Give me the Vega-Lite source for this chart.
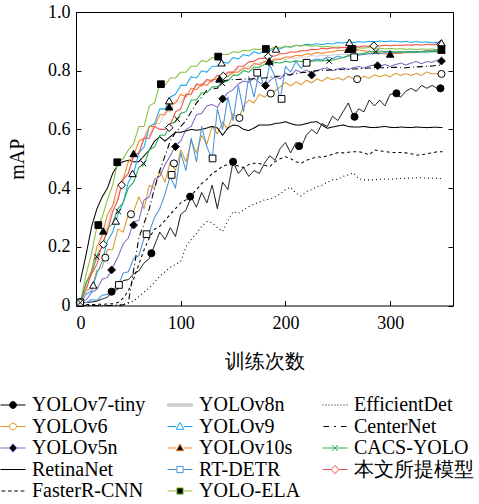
{
  "$schema": "https://vega.github.io/schema/vega-lite/v6.json",
  "width": 377,
  "height": 293.5,
  "autosize": {"type": "none"},
  "padding": {"left": 76, "top": 12, "right": 26, "bottom": 198.5},
  "background": "white",
  "config": {
    "font": "Liberation Serif",
    "view": {"stroke": "black", "strokeWidth": 1},
    "axis": {"domain": false, "grid": false, "tickColor": "black", "tickSize": -5, "tickWidth": 1,
      "labelFont": "Liberation Serif", "labelFontSize": 18, "labelColor": "black",
      "titleFont": "Liberation Serif", "titleFontSize": 20, "titleFontWeight": "normal", "titleColor": "black"}
  },
  "datasets": {
    "cur": [
      {"e":4,"a":0.01,"b":0.01,"c":0.01,"d":0.08,"f":0.003,"g":0.01,"h":0.01,"i":0.01,"j":0.01,"k":0.01,"l":0,"m":0,"n":0.01,"o":0.01},
      {"e":10,"a":0.01,"b":0.05,"c":0.02,"d":0.18,"f":0.003,"g":0.05,"h":0.04,"i":0.08,"j":0.01,"k":0.11,"l":0,"m":0,"n":0.08,"o":0.06},
      {"e":15,"a":0.012,"b":0.06,"c":0.045,"d":0.27,"f":0.003,"g":0.12,"h":0.05,"i":0.12,"j":0.02,"k":0.18,"l":0,"m":0,"n":0.11,"o":0.11},
      {"e":20,"a":0.015,"b":0.12,"c":0.055,"d":0.33,"f":0.004,"g":0.16,"h":0.11,"i":0.2,"j":0.018,"k":0.27,"l":0,"m":0,"n":0.17,"o":0.14},
      {"e":25,"a":0.022,"b":0.13,"c":0.09,"d":0.37,"f":0.004,"g":0.24,"h":0.15,"i":0.24,"j":0.035,"k":0.3,"l":0,"m":0,"n":0.2,"o":0.21},
      {"e":30,"a":0.028,"b":0.19,"c":0.095,"d":0.4,"f":0.005,"g":0.27,"h":0.22,"i":0.31,"j":0.038,"k":0.36,"l":0,"m":0,"n":0.26,"o":0.25},
      {"e":35,"a":0.05,"b":0.19,"c":0.13,"d":0.45,"f":0.006,"g":0.34,"h":0.25,"i":0.34,"j":0.055,"k":0.41,"l":0.001,"m":0,"n":0.28,"o":0.32},
      {"e":40,"a":0.055,"b":0.26,"c":0.165,"d":0.48,"f":0.01,"g":0.37,"h":0.31,"i":0.41,"j":0.065,"k":0.49,"l":0.002,"m":0,"n":0.33,"o":0.36},
      {"e":45,"a":0.085,"b":0.25,"c":0.21,"d":0.49,"f":0.025,"g":0.43,"h":0.35,"i":0.43,"j":0.11,"k":0.5,"l":0.003,"m":0.002,"n":0.35,"o":0.43},
      {"e":50,"a":0.088,"b":0.31,"c":0.23,"d":0.495,"f":0.05,"g":0.45,"h":0.42,"i":0.49,"j":0.115,"k":0.53,"l":0.008,"m":0.01,"n":0.4,"o":0.45},
      {"e":55,"a":0.108,"b":0.32,"c":0.285,"d":0.49,"f":0.09,"g":0.51,"h":0.45,"i":0.51,"j":0.16,"k":0.55,"l":0.015,"m":0.12,"n":0.42,"o":0.51},
      {"e":60,"a":0.118,"b":0.37,"c":0.29,"d":0.49,"f":0.14,"g":0.52,"h":0.52,"i":0.56,"j":0.17,"k":0.61,"l":0.03,"m":0.23,"n":0.47,"o":0.52},
      {"e":65,"a":0.145,"b":0.33,"c":0.36,"d":0.51,"f":0.19,"g":0.57,"h":0.54,"i":0.57,"j":0.23,"k":0.61,"l":0.045,"m":0.28,"n":0.48,"o":0.57},
      {"e":70,"a":0.16,"b":0.41,"c":0.37,"d":0.53,"f":0.23,"g":0.58,"h":0.61,"i":0.61,"j":0.25,"k":0.68,"l":0.06,"m":0.33,"n":0.53,"o":0.57},
      {"e":75,"a":0.205,"b":0.4,"c":0.43,"d":0.56,"f":0.26,"g":0.62,"h":0.62,"i":0.61,"j":0.3,"k":0.69,"l":0.08,"m":0.4,"n":0.54,"o":0.61},
      {"e":80,"a":0.25,"b":0.46,"c":0.44,"d":0.575,"f":0.27,"g":0.62,"h":0.67,"i":0.65,"j":0.33,"k":0.755,"l":0.1,"m":0.46,"n":0.58,"o":0.6},
      {"e":85,"a":0.225,"b":0.42,"c":0.48,"d":0.56,"f":0.29,"g":0.66,"h":0.67,"i":0.65,"j":0.38,"k":0.75,"l":0.115,"m":0.51,"n":0.58,"o":0.6},
      {"e":90,"a":0.265,"b":0.49,"c":0.51,"d":0.575,"f":0.31,"g":0.66,"h":0.71,"i":0.685,"j":0.44,"k":0.775,"l":0.13,"m":0.56,"n":0.62,"o":0.615},
      {"e":95,"a":0.235,"b":0.46,"c":0.545,"d":0.59,"f":0.33,"g":0.7,"h":0.72,"i":0.69,"j":0.4,"k":0.775,"l":0.14,"m":0.59,"n":0.625,"o":0.66},
      {"e":100,"a":0.31,"b":0.53,"c":0.56,"d":0.59,"f":0.35,"g":0.69,"h":0.75,"i":0.72,"j":0.52,"k":0.795,"l":0.15,"m":0.61,"n":0.655,"o":0.67},
      {"e":105,"a":0.325,"b":0.49,"c":0.6,"d":0.595,"f":0.36,"g":0.72,"h":0.75,"i":0.71,"j":0.46,"k":0.795,"l":0.2,"m":0.63,"n":0.66,"o":0.72},
      {"e":110,"a":0.37,"b":0.56,"c":0.61,"d":0.6,"f":0.375,"g":0.72,"h":0.78,"i":0.74,"j":0.57,"k":0.815,"l":0.225,"m":0.66,"n":0.7,"o":0.72},
      {"e":115,"a":0.335,"b":0.52,"c":0.65,"d":0.597,"f":0.395,"g":0.75,"h":0.775,"i":0.735,"j":0.49,"k":0.815,"l":0.245,"m":0.69,"n":0.7,"o":0.755},
      {"e":120,"a":0.385,"b":0.58,"c":0.655,"d":0.6,"f":0.415,"g":0.745,"h":0.8,"i":0.755,"j":0.61,"k":0.835,"l":0.27,"m":0.71,"n":0.725,"o":0.75},
      {"e":125,"a":0.35,"b":0.55,"c":0.68,"d":0.605,"f":0.43,"g":0.765,"h":0.795,"i":0.75,"j":0.54,"k":0.83,"l":0.286,"m":0.734,"n":0.725,"o":0.77},
      {"e":130,"a":0.41,"b":0.61,"c":0.685,"d":0.61,"f":0.45,"g":0.76,"h":0.815,"i":0.77,"j":0.5,"k":0.845,"l":0.282,"m":0.738,"n":0.745,"o":0.765},
      {"e":135,"a":0.33,"b":0.585,"c":0.675,"d":0.605,"f":0.46,"g":0.775,"h":0.815,"i":0.77,"j":0.67,"k":0.845,"l":0.265,"m":0.74,"n":0.745,"o":0.785},
      {"e":140,"a":0.42,"b":0.625,"c":0.705,"d":0.58,"f":0.475,"g":0.775,"h":0.83,"i":0.78,"j":0.6,"k":0.855,"l":0.252,"m":0.765,"n":0.76,"o":0.78},
      {"e":145,"a":0.395,"b":0.6,"c":0.725,"d":0.605,"f":0.48,"g":0.79,"h":0.825,"i":0.78,"j":0.71,"k":0.855,"l":0.29,"m":0.768,"n":0.765,"o":0.795},
      {"e":150,"a":0.49,"b":0.655,"c":0.735,"d":0.615,"f":0.48,"g":0.79,"h":0.845,"i":0.795,"j":0.63,"k":0.865,"l":0.32,"m":0.77,"n":0.785,"o":0.795},
      {"e":155,"a":0.45,"b":0.635,"c":0.755,"d":0.612,"f":0.475,"g":0.805,"h":0.84,"i":0.795,"j":0.75,"k":0.862,"l":0.314,"m":0.77,"n":0.785,"o":0.815},
      {"e":160,"a":0.47,"b":0.68,"c":0.765,"d":0.6,"f":0.47,"g":0.805,"h":0.855,"i":0.81,"j":0.66,"k":0.87,"l":0.325,"m":0.772,"n":0.8,"o":0.815},
      {"e":165,"a":0.44,"b":0.7,"c":0.76,"d":0.596,"f":0.48,"g":0.815,"h":0.85,"i":0.805,"j":0.78,"k":0.868,"l":0.337,"m":0.771,"n":0.795,"o":0.83},
      {"e":170,"a":0.46,"b":0.69,"c":0.775,"d":0.605,"f":0.485,"g":0.818,"h":0.865,"i":0.825,"j":0.71,"k":0.874,"l":0.345,"m":0.773,"n":0.812,"o":0.832},
      {"e":175,"a":0.45,"b":0.72,"c":0.76,"d":0.615,"f":0.484,"g":0.827,"h":0.858,"i":0.82,"j":0.8,"k":0.872,"l":0.352,"m":0.775,"n":0.812,"o":0.842},
      {"e":180,"a":0.485,"b":0.71,"c":0.75,"d":0.615,"f":0.478,"g":0.828,"h":0.87,"i":0.832,"j":0.74,"k":0.876,"l":0.36,"m":0.775,"n":0.822,"o":0.842},
      {"e":185,"a":0.51,"b":0.725,"c":0.765,"d":0.615,"f":0.473,"g":0.833,"h":0.868,"i":0.83,"j":0.82,"k":0.874,"l":0.362,"m":0.778,"n":0.823,"o":0.85},
      {"e":190,"a":0.495,"b":0.73,"c":0.78,"d":0.62,"f":0.49,"g":0.833,"h":0.876,"i":0.84,"j":0.78,"k":0.88,"l":0.37,"m":0.78,"n":0.828,"o":0.85},
      {"e":195,"a":0.535,"b":0.745,"c":0.772,"d":0.622,"f":0.5,"g":0.842,"h":0.874,"i":0.838,"j":0.7,"k":0.878,"l":0.38,"m":0.782,"n":0.826,"o":0.858},
      {"e":200,"a":0.555,"b":0.76,"c":0.792,"d":0.626,"f":0.507,"g":0.838,"h":0.882,"i":0.847,"j":0.815,"k":0.884,"l":0.395,"m":0.785,"n":0.832,"o":0.858},
      {"e":205,"a":0.52,"b":0.748,"c":0.783,"d":0.62,"f":0.5,"g":0.844,"h":0.88,"i":0.846,"j":0.795,"k":0.881,"l":0.403,"m":0.787,"n":0.829,"o":0.864},
      {"e":210,"a":0.555,"b":0.762,"c":0.802,"d":0.615,"f":0.49,"g":0.843,"h":0.887,"i":0.852,"j":0.832,"k":0.886,"l":0.382,"m":0.79,"n":0.834,"o":0.863},
      {"e":215,"a":0.54,"b":0.752,"c":0.794,"d":0.615,"f":0.484,"g":0.847,"h":0.885,"i":0.851,"j":0.808,"k":0.884,"l":0.373,"m":0.793,"n":0.831,"o":0.868},
      {"e":220,"a":0.58,"b":0.768,"c":0.802,"d":0.62,"f":0.495,"g":0.846,"h":0.89,"i":0.857,"j":0.827,"k":0.887,"l":0.388,"m":0.795,"n":0.835,"o":0.868},
      {"e":225,"a":0.6,"b":0.758,"c":0.79,"d":0.625,"f":0.5,"g":0.852,"h":0.888,"i":0.856,"j":0.835,"k":0.883,"l":0.395,"m":0.798,"n":0.832,"o":0.873},
      {"e":230,"a":0.585,"b":0.772,"c":0.801,"d":0.626,"f":0.507,"g":0.849,"h":0.892,"i":0.862,"j":0.84,"k":0.885,"l":0.405,"m":0.8,"n":0.834,"o":0.872},
      {"e":235,"a":0.62,"b":0.764,"c":0.806,"d":0.615,"f":0.505,"g":0.853,"h":0.889,"i":0.859,"j":0.836,"k":0.881,"l":0.41,"m":0.801,"n":0.833,"o":0.876},
      {"e":240,"a":0.61,"b":0.777,"c":0.81,"d":0.604,"f":0.51,"g":0.851,"h":0.893,"i":0.863,"j":0.847,"k":0.883,"l":0.42,"m":0.802,"n":0.835,"o":0.875},
      {"e":245,"a":0.645,"b":0.769,"c":0.8,"d":0.608,"f":0.515,"g":0.854,"h":0.891,"i":0.864,"j":0.841,"k":0.88,"l":0.428,"m":0.803,"n":0.836,"o":0.878},
      {"e":250,"a":0.63,"b":0.776,"c":0.806,"d":0.612,"f":0.521,"g":0.855,"h":0.896,"i":0.869,"j":0.85,"k":0.881,"l":0.43,"m":0.804,"n":0.841,"o":0.877},
      {"e":255,"a":0.66,"b":0.768,"c":0.81,"d":0.615,"f":0.52,"g":0.856,"h":0.894,"i":0.869,"j":0.844,"k":0.878,"l":0.44,"m":0.805,"n":0.845,"o":0.88},
      {"e":260,"a":0.69,"b":0.781,"c":0.804,"d":0.61,"f":0.522,"g":0.855,"h":0.898,"i":0.874,"j":0.851,"k":0.879,"l":0.445,"m":0.805,"n":0.851,"o":0.879},
      {"e":265,"a":0.645,"b":0.774,"c":0.811,"d":0.608,"f":0.524,"g":0.857,"h":0.896,"i":0.871,"j":0.846,"k":0.876,"l":0.452,"m":0.806,"n":0.852,"o":0.882},
      {"e":270,"a":0.67,"b":0.769,"c":0.814,"d":0.608,"f":0.524,"g":0.856,"h":0.899,"i":0.871,"j":0.853,"k":0.878,"l":0.432,"m":0.807,"n":0.857,"o":0.881},
      {"e":275,"a":0.66,"b":0.781,"c":0.809,"d":0.61,"f":0.52,"g":0.858,"h":0.897,"i":0.867,"j":0.855,"k":0.877,"l":0.428,"m":0.808,"n":0.859,"o":0.884},
      {"e":280,"a":0.7,"b":0.774,"c":0.816,"d":0.607,"f":0.513,"g":0.857,"h":0.9,"i":0.867,"j":0.858,"k":0.879,"l":0.428,"m":0.809,"n":0.864,"o":0.883},
      {"e":285,"a":0.68,"b":0.786,"c":0.82,"d":0.606,"f":0.53,"g":0.859,"h":0.899,"i":0.861,"j":0.859,"k":0.876,"l":0.428,"m":0.81,"n":0.865,"o":0.886},
      {"e":290,"a":0.7,"b":0.779,"c":0.815,"d":0.608,"f":0.527,"g":0.858,"h":0.901,"i":0.861,"j":0.859,"k":0.877,"l":0.43,"m":0.81,"n":0.867,"o":0.884},
      {"e":295,"a":0.68,"b":0.786,"c":0.821,"d":0.61,"f":0.525,"g":0.86,"h":0.899,"i":0.857,"j":0.861,"k":0.874,"l":0.431,"m":0.81,"n":0.865,"o":0.887},
      {"e":300,"a":0.72,"b":0.779,"c":0.814,"d":0.607,"f":0.522,"g":0.859,"h":0.901,"i":0.857,"j":0.861,"k":0.876,"l":0.43,"m":0.811,"n":0.866,"o":0.885},
      {"e":305,"a":0.72,"b":0.791,"c":0.821,"d":0.606,"f":0.521,"g":0.861,"h":0.9,"i":0.859,"j":0.862,"k":0.874,"l":0.432,"m":0.812,"n":0.864,"o":0.887},
      {"e":310,"a":0.71,"b":0.784,"c":0.826,"d":0.608,"f":0.521,"g":0.86,"h":0.898,"i":0.859,"j":0.863,"k":0.875,"l":0.433,"m":0.81,"n":0.865,"o":0.886},
      {"e":315,"a":0.73,"b":0.79,"c":0.819,"d":0.607,"f":0.52,"g":0.86,"h":0.9,"i":0.863,"j":0.864,"k":0.873,"l":0.434,"m":0.81,"n":0.863,"o":0.888},
      {"e":320,"a":0.74,"b":0.784,"c":0.826,"d":0.606,"f":0.517,"g":0.861,"h":0.897,"i":0.862,"j":0.865,"k":0.874,"l":0.434,"m":0.812,"n":0.864,"o":0.887},
      {"e":325,"a":0.73,"b":0.791,"c":0.831,"d":0.608,"f":0.513,"g":0.861,"h":0.899,"i":0.866,"j":0.865,"k":0.872,"l":0.435,"m":0.813,"n":0.862,"o":0.889},
      {"e":330,"a":0.75,"b":0.784,"c":0.824,"d":0.607,"f":0.513,"g":0.862,"h":0.897,"i":0.865,"j":0.866,"k":0.874,"l":0.435,"m":0.814,"n":0.864,"o":0.887},
      {"e":335,"a":0.74,"b":0.796,"c":0.831,"d":0.606,"f":0.517,"g":0.861,"h":0.898,"i":0.869,"j":0.867,"k":0.873,"l":0.434,"m":0.815,"n":0.864,"o":0.89},
      {"e":340,"a":0.75,"b":0.789,"c":0.829,"d":0.607,"f":0.52,"g":0.862,"h":0.895,"i":0.868,"j":0.868,"k":0.874,"l":0.434,"m":0.816,"n":0.866,"o":0.888},
      {"e":345,"a":0.74,"b":0.79,"c":0.836,"d":0.607,"f":0.524,"g":0.862,"h":0.897,"i":0.871,"j":0.869,"k":0.872,"l":0.433,"m":0.818,"n":0.865,"o":0.891},
      {"e":350,"a":0.745,"b":0.79,"c":0.833,"d":0.606,"f":0.524,"g":0.862,"h":0.895,"i":0.87,"j":0.87,"k":0.873,"l":0.433,"m":0.82,"n":0.865,"o":0.89}
    ],
    "mk": [
      {"s":"a","e":4,"v":0.01},{"s":"a","e":34,"v":0.047},{"s":"a","e":72,"v":0.178},{"s":"a","e":109,"v":0.371},{"s":"a","e":150,"v":0.49},{"s":"a","e":213,"v":0.543},{"s":"a","e":266,"v":0.643},{"s":"a","e":306,"v":0.723},{"s":"a","e":348,"v":0.74},
      {"s":"b","e":4,"v":0.01},{"s":"b","e":28,"v":0.163},{"s":"b","e":52.5,"v":0.311},{"s":"b","e":93.5,"v":0.484},{"s":"b","e":156,"v":0.639},{"s":"b","e":186,"v":0.722},{"s":"b","e":268.5,"v":0.771},{"s":"b","e":349,"v":0.789},
      {"s":"c","e":4,"v":0.01},{"s":"c","e":34,"v":0.121},{"s":"c","e":55,"v":0.274},{"s":"c","e":95,"v":0.541},{"s":"c","e":140,"v":0.704},{"s":"c","e":181,"v":0.749},{"s":"c","e":225,"v":0.785},{"s":"c","e":288,"v":0.817},{"s":"c","e":349,"v":0.833},
      {"s":"h","e":4,"v":0.01},{"s":"h","e":16.5,"v":0.07},{"s":"h","e":38,"v":0.288},{"s":"h","e":54,"v":0.45},{"s":"h","e":89,"v":0.698},{"s":"h","e":139,"v":0.827},{"s":"h","e":191,"v":0.874},{"s":"h","e":261,"v":0.897},{"s":"h","e":349,"v":0.895},
      {"s":"i","e":4,"v":0.01},{"s":"i","e":26,"v":0.254},{"s":"i","e":55,"v":0.518},{"s":"i","e":89,"v":0.677},{"s":"i","e":137,"v":0.772},{"s":"i","e":184.5,"v":0.833},{"s":"i","e":260,"v":0.873},{"s":"i","e":300,"v":0.857},{"s":"i","e":349,"v":0.87},
      {"s":"j","e":4,"v":0.01},{"s":"j","e":41,"v":0.07},{"s":"j","e":67.4,"v":0.243},{"s":"j","e":91.3,"v":0.445},{"s":"j","e":130.4,"v":0.501},{"s":"j","e":173,"v":0.793},{"s":"j","e":196.3,"v":0.704},{"s":"j","e":220.2,"v":0.827},{"s":"j","e":265.6,"v":0.846},
      {"s":"k","e":4,"v":0.01},{"s":"k","e":21.3,"v":0.274},{"s":"k","e":39.4,"v":0.488},{"s":"k","e":81.1,"v":0.754},{"s":"k","e":135.8,"v":0.848},{"s":"k","e":181.3,"v":0.874},{"s":"k","e":264,"v":0.874},{"s":"k","e":349,"v":0.873},
      {"s":"n","e":4,"v":0.01},{"s":"n","e":19.7,"v":0.166},{"s":"n","e":40.4,"v":0.32},{"s":"n","e":64.3,"v":0.484},{"s":"n","e":96.7,"v":0.635},{"s":"n","e":139.7,"v":0.757},{"s":"n","e":186,"v":0.825},{"s":"n","e":241.8,"v":0.833},{"s":"n","e":286.3,"v":0.865},
      {"s":"o","e":4,"v":0.01},{"s":"o","e":26.1,"v":0.208},{"s":"o","e":43.6,"v":0.41},{"s":"o","e":89,"v":0.606},{"s":"o","e":140.6,"v":0.782},{"s":"o","e":183.5,"v":0.848},{"s":"o","e":284.4,"v":0.885},{"s":"o","e":348,"v":0.89}
    ],
    "lg": [
      {"s":"YOLOv7-tiny"},{"s":"YOLOv6"},{"s":"YOLOv5n"},{"s":"RetinaNet"},{"s":"FasterR-CNN"},
      {"s":"YOLOv8n"},{"s":"YOLOv9"},{"s":"YOLOv10s"},{"s":"RT-DETR"},{"s":"YOLO-ELA"},
      {"s":"EfficientDet"},{"s":"CenterNet"},{"s":"CACS-YOLO"},{"s":"本文所提模型"}
    ]
  },
  "layer": [
    {
      "data": {"name": "cur"},
      "transform": [{"fold": ["a","b","c","d","f","g","h","i","j","k","l","m","n","o"], "as": ["s","v"]}],
      "mark": {"type": "line", "strokeCap": "butt", "strokeJoin": "round"},
      "encoding": {
        "x": {"field": "e", "type": "quantitative", "scale": {"domain": [0, 360], "nice": false},
          "axis": {"orient": "bottom", "values": [0, 100, 200, 300], "title": "训练次数", "labelPadding": 14, "titlePadding": 19}},
        "y": {"field": "v", "type": "quantitative", "scale": {"domain": [0, 1], "nice": false},
          "axis": {"orient": "left", "values": [0, 0.2, 0.4, 0.6, 0.8, 1], "title": "mAP", "labelPadding": 11, "titlePadding": 20,
            "labelExpr": "datum.value == 0 ? '0' : format(datum.value, '.1f')"}},
        "color": {"field": "s", "type": "nominal", "legend": null,
          "scale": {"domain": ["a","b","c","d","f","g","h","i","j","k","l","m","n","o"],
            "range": ["#000000","#DB9527","#8064C2","#000000","#000000","#CFCFCF","#1AA6EE","#F28322","#4A93D8","#86C13F","#000000","#000000","#2AAE56","#F2524A"]}},
        "strokeDash": {"field": "s", "type": "nominal", "legend": null,
          "scale": {"domain": ["a","b","c","d","f","g","h","i","j","k","l","m","n","o"],
            "range": [[1,0],[1,0],[1,0],[1,0],[3,3],[1,0],[1,0],[1,0],[1,0],[1,0],[1,3],[6,3,1,3],[1,0],[1,0]]}},
        "strokeWidth": {"field": "s", "type": "nominal", "legend": null,
          "scale": {"domain": ["a","b","c","d","f","g","h","i","j","k","l","m","n","o"],
            "range": [1, 1.1, 1.1, 1.5, 1, 2.6, 1.1, 1.1, 1.1, 1.1, 1.2, 1, 1.1, 1.1]}}
      }
    },
    {
      "data": {"name": "mk"},
      "transform": [{"filter": {"field": "s", "equal": "a"}}],
      "mark": {"type": "point", "shape": "circle", "filled": true, "fill": "black", "stroke": "black", "strokeWidth": 1, "size": 50, "opacity": 1},
      "encoding": {
        "x": {"field": "e", "type": "quantitative", "axis": {"orient": "top", "values": [0, 100, 200, 300], "labels": false, "title": null}},
        "y": {"field": "v", "type": "quantitative", "axis": {"orient": "right", "values": [0, 0.2, 0.4, 0.6, 0.8, 1], "labels": false, "title": null}}
      }
    },
    {
      "data": {"name": "mk"},
      "transform": [{"filter": {"field": "s", "equal": "b"}}],
      "mark": {"type": "point", "shape": "circle", "filled": true, "fill": "white", "stroke": "black", "strokeWidth": 1, "size": 50, "opacity": 1},
      "encoding": {"x": {"field": "e", "type": "quantitative", "axis": null}, "y": {"field": "v", "type": "quantitative", "axis": null}}
    },
    {
      "data": {"name": "mk"},
      "transform": [{"filter": {"field": "s", "equal": "c"}}],
      "mark": {"type": "point", "shape": "diamond", "filled": true, "fill": "black", "stroke": "black", "strokeWidth": 1, "size": 60, "opacity": 1},
      "encoding": {"x": {"field": "e", "type": "quantitative", "axis": null}, "y": {"field": "v", "type": "quantitative", "axis": null}}
    },
    {
      "data": {"name": "mk"},
      "transform": [{"filter": {"field": "s", "equal": "o"}}],
      "mark": {"type": "point", "shape": "diamond", "filled": true, "fill": "white", "stroke": "black", "strokeWidth": 1, "size": 60, "opacity": 1},
      "encoding": {"x": {"field": "e", "type": "quantitative", "axis": null}, "y": {"field": "v", "type": "quantitative", "axis": null}}
    },
    {
      "data": {"name": "mk"},
      "transform": [{"filter": {"field": "s", "equal": "i"}}],
      "mark": {"type": "point", "shape": "triangle-up", "filled": true, "fill": "black", "stroke": "black", "strokeWidth": 1, "size": 55, "opacity": 1},
      "encoding": {"x": {"field": "e", "type": "quantitative", "axis": null}, "y": {"field": "v", "type": "quantitative", "axis": null}}
    },
    {
      "data": {"name": "mk"},
      "transform": [{"filter": {"field": "s", "equal": "h"}}],
      "mark": {"type": "point", "shape": "triangle-up", "filled": true, "fill": "white", "stroke": "black", "strokeWidth": 1, "size": 55, "opacity": 1},
      "encoding": {"x": {"field": "e", "type": "quantitative", "axis": null}, "y": {"field": "v", "type": "quantitative", "axis": null}}
    },
    {
      "data": {"name": "mk"},
      "transform": [{"filter": {"field": "s", "equal": "k"}}],
      "mark": {"type": "point", "shape": "square", "filled": true, "fill": "black", "stroke": "black", "strokeWidth": 1, "size": 45, "opacity": 1},
      "encoding": {"x": {"field": "e", "type": "quantitative", "axis": null}, "y": {"field": "v", "type": "quantitative", "axis": null}}
    },
    {
      "data": {"name": "mk"},
      "transform": [{"filter": {"field": "s", "equal": "j"}}],
      "mark": {"type": "point", "shape": "square", "filled": true, "fill": "white", "stroke": "black", "strokeWidth": 1, "size": 45, "opacity": 1},
      "encoding": {"x": {"field": "e", "type": "quantitative", "axis": null}, "y": {"field": "v", "type": "quantitative", "axis": null}}
    },
    {
      "data": {"name": "mk"},
      "transform": [{"filter": {"field": "s", "equal": "n"}}],
      "mark": {"type": "point", "shape": "M-1,-1L1,1M-1,1L1,-1", "filled": false, "stroke": "black", "strokeWidth": 1, "size": 30, "opacity": 1},
      "encoding": {"x": {"field": "e", "type": "quantitative", "axis": null}, "y": {"field": "v", "type": "quantitative", "axis": null}}
    },
    {
      "data": {"name": "lg"},
      "mark": {"type": "point", "opacity": 0, "strokeWidth": 1},
      "encoding": {
        "shape": {"field": "s", "type": "nominal",
          "scale": {"domain": ["YOLOv7-tiny","YOLOv6","YOLOv5n","RetinaNet","FasterR-CNN","YOLOv8n","YOLOv9","YOLOv10s","RT-DETR","YOLO-ELA","EfficientDet","CenterNet","CACS-YOLO","本文所提模型"],
            "range": [
              "M-1,0H-0.3M0.3,0H1M0.27,0A0.27,0.27 0 1 1 -0.27,0A0.27,0.27 0 1 1 0.27,0Z",
              "M-1,0H-0.3M0.3,0H1M0.27,0A0.27,0.27 0 1 1 -0.27,0A0.27,0.27 0 1 1 0.27,0Z",
              "M-1,0H-0.3M0.3,0H1M0,-0.34L0.3,0L0,0.34L-0.3,0Z",
              "M-1,0H1",
              "M-0.91,0H-0.61M-0.4,0H-0.1M0.1,0H0.4M0.61,0H0.91",
              "M-1,-0.1H1V0.1H-1Z",
              "M-1,0H-0.3M0.3,0H1M0,-0.32L0.3,0.22L-0.3,0.22Z",
              "M-1,0H-0.3M0.3,0H1M0,-0.32L0.3,0.22L-0.3,0.22Z",
              "M-1,0H-0.3M0.3,0H1M-0.25,-0.25H0.25V0.25H-0.25Z",
              "M-1,0H-0.3M0.3,0H1M-0.25,-0.25H0.25V0.25H-0.25Z",
              "M-1,0H-0.92M-0.76,0H-0.68M-0.52,0H-0.44M-0.28,0H-0.2M-0.04,0H0.04M0.2,0H0.28M0.44,0H0.52M0.68,0H0.76M0.92,0H1",
              "M-0.92,0H-0.48M-0.08,0H0.08M0.48,0H0.92",
              "M-1,0H1M-0.24,-0.24L0.24,0.24M-0.24,0.24L0.24,-0.24",
              "M-1,0H-0.3M0.3,0H1M0,-0.34L0.3,0L0,0.34L-0.3,0Z"
            ]},
          "legend": {"title": null, "orient": "none", "legendX": -76, "legendY": 383, "columns": 3, "columnPadding": 21, "rowPadding": 1.5,
            "symbolSize": 625, "symbolStrokeWidth": 1, "symbolOpacity": 1, "labelFont": "Liberation Serif", "labelFontSize": 20,
            "labelOffset": 6, "labelColor": "black", "clipHeight": 20, "padding": 0, "labelLimit": 0}},
        "stroke": {"field": "s", "type": "nominal",
          "scale": {"domain": ["YOLOv7-tiny","YOLOv6","YOLOv5n","RetinaNet","FasterR-CNN","YOLOv8n","YOLOv9","YOLOv10s","RT-DETR","YOLO-ELA","EfficientDet","CenterNet","CACS-YOLO","本文所提模型"],
            "range": ["#000000","#DB9527","#8064C2","#000000","#000000","#CFCFCF","#1AA6EE","#F28322","#4A93D8","#86C13F","#000000","#000000","#2AAE56","#F2524A"]},
          "legend": {"title": null, "orient": "none", "legendX": -76, "legendY": 383, "columns": 3, "columnPadding": 21, "rowPadding": 1.5,
            "symbolSize": 625, "symbolStrokeWidth": 1, "symbolOpacity": 1, "labelFont": "Liberation Serif", "labelFontSize": 20,
            "labelOffset": 6, "labelColor": "black", "clipHeight": 20, "padding": 0, "labelLimit": 0}},
        "fill": {"field": "s", "type": "nominal",
          "scale": {"domain": ["YOLOv7-tiny","YOLOv6","YOLOv5n","RetinaNet","FasterR-CNN","YOLOv8n","YOLOv9","YOLOv10s","RT-DETR","YOLO-ELA","EfficientDet","CenterNet","CACS-YOLO","本文所提模型"],
            "range": ["#000000","#FFFFFF","#000000","#FFFFFF","#FFFFFF","#CFCFCF","#FFFFFF","#000000","#FFFFFF","#000000","#FFFFFF","#FFFFFF","#FFFFFF","#FFFFFF"]},
          "legend": {"title": null, "orient": "none", "legendX": -76, "legendY": 383, "columns": 3, "columnPadding": 21, "rowPadding": 1.5,
            "symbolSize": 625, "symbolStrokeWidth": 1, "symbolOpacity": 1, "labelFont": "Liberation Serif", "labelFontSize": 20,
            "labelOffset": 6, "labelColor": "black", "clipHeight": 20, "padding": 0, "labelLimit": 0}}
      }
    }
  ],
  "resolve": {"axis": {"x": "independent", "y": "independent"}}
}
